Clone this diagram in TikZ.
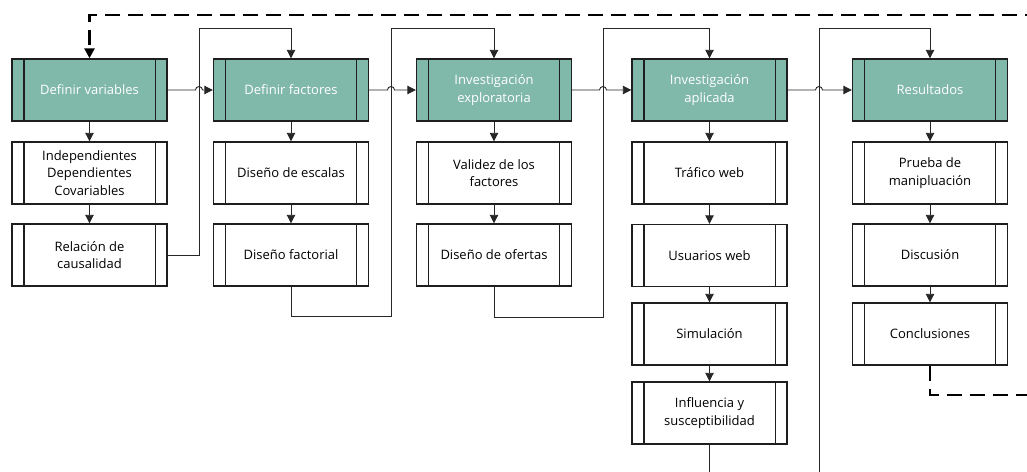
\documentclass[tikz,border=0pt]{standalone}
\usepackage{fontspec}
\setmainfont{Open Sans}
\usetikzlibrary{arrows.meta}
\definecolor{teal1}{HTML}{80B8A9}
\definecolor{edge}{HTML}{1E1E1E}
\tikzset{
  procbox/.style={rectangle, draw=edge, line width=1.4pt, minimum width=155pt, minimum height=62pt, inner sep=2pt, align=center, font=\fontsize{13}{17.5}\selectfont, text=black, fill=white},
  headbox/.style={procbox, fill=teal1, text=white},
  conn/.style={draw=black!85, line width=0.9pt},
  arr/.style={conn, -{Triangle[length=8.5pt,width=8.5pt]}},
  fb/.style={draw=black, line width=2.5pt, dash pattern=on 15pt off 8pt, -{Triangle[length=10pt,width=10pt]}},
}
\begin{document}
\begin{tikzpicture}[x=1pt,y=-1pt]
\useasboundingbox (0,0) rectangle (1027,471);
\clip (0,0) rectangle (1027,471);
% column 1
\node[headbox] (v) at (89.5,90) {Definir variables};
\node[procbox] (v2) at (89.5,173) {Independientes\\Dependientes\\Covariables};
\node[procbox] (v3) at (89.5,255) {Relación de\\causalidad};
% column 2
\node[headbox] (f) at (291,90) {Definir factores};
\node[procbox] (f2) at (291,173) {Diseño de escalas};
\node[procbox] (f3) at (291,255) {Diseño factorial};
% column 3
\node[headbox] (e) at (494,90) {Investigación\\exploratoria};
\node[procbox] (e2) at (494,173) {Validez de los\\factores};
\node[procbox] (e3) at (494,255) {Diseño de ofertas};
% column 4
\node[headbox] (a) at (709.5,90) {Investigación\\aplicada};
\node[procbox] (a2) at (709.5,173) {Tráfico web};
\node[procbox] (a3) at (709.5,255.5) {Usuarios web};
\node[procbox] (a4) at (709.5,334) {Simulación};
\node[procbox] (a5) at (709.5,413) {Influencia y\\susceptibilidad};
% column 5
\node[headbox] (r) at (930,90) {Resultados};
\node[procbox] (r2) at (930,173) {Prueba de\\manipluación};
\node[procbox] (r3) at (930,255) {Discusión};
\node[procbox] (r4) at (930,334) {Conclusiones};
% inner lines
\foreach \n in {v,v2,v3,f,f2,f3,e,e2,e3,a,a2,a3,a4,a5,r,r2,r3,r4}{
  \draw[draw=edge, line width=1.4pt] ([xshift=12.5pt]\n.north west) -- ([xshift=12.5pt]\n.south west);
  \draw[draw=edge, line width=1.4pt] ([xshift=-12.5pt]\n.north east) -- ([xshift=-12.5pt]\n.south east);
}
% vertical arrows in columns
\draw[arr] (v) -- (v2);
\draw[arr] (v2) -- (v3);
\draw[arr] (f) -- (f2);
\draw[arr] (f2) -- (f3);
\draw[arr] (e) -- (e2);
\draw[arr] (e2) -- (e3);
\draw[arr] (a) -- (a2);
\draw[arr] (a2) -- (a3);
\draw[arr] (a3) -- (a4);
\draw[arr] (a4) -- (a5);
\draw[arr] (r) -- (r2);
\draw[arr] (r2) -- (r3);
\draw[arr] (r3) -- (r4);
% return connectors
\draw[arr] (v3.east) -- (199,255) -- (199,28) -| (f.north);
\draw[arr] (f3.south) -- (291,316.5) -- (391,316.5) -- (391,28) -| (e.north);
\draw[arr] (e3.south) -- (494,317) -- (603,317) -- (603,28) -| (a.north);
\draw[arr] (a5.south) -- (709.5,490) -- (819,490) -- (819,28) -| (r.north);
% horizontal connectors with hops
\draw[arr] (v.east) -- (195.5,90) arc[start angle=180, end angle=360, radius=3.5] -- (f.west);
\draw[arr] (f.east) -- (387.5,90) arc[start angle=180, end angle=360, radius=3.5] -- (e.west);
\draw[arr] (e.east) -- (599.5,90) arc[start angle=180, end angle=360, radius=3.5] -- (a.west);
\draw[arr] (a.east) -- (815.5,90) arc[start angle=180, end angle=360, radius=3.5] -- (r.west);
% dashed feedback loop
\draw[fb] (r4.south) -- (930,395) -- (1045,395) -- (1045,15) -| (v.north);
\end{tikzpicture}
\end{document}
